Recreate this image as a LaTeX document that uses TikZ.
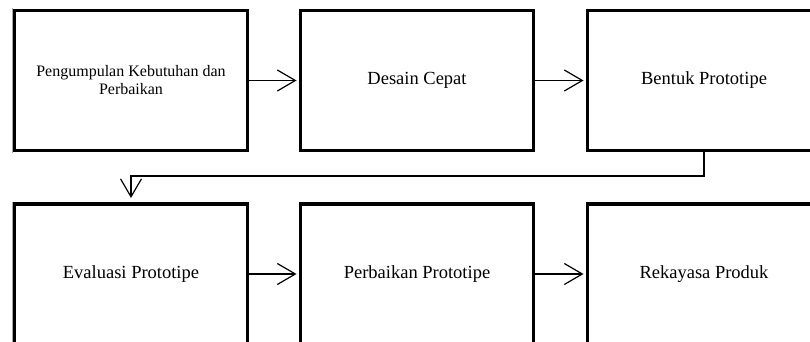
\documentclass[tikz,border=0pt]{standalone}
\usepackage{fontspec}
\setmainfont{Liberation Serif}
\usetikzlibrary{arrows.meta}
\tikzset{
  stage/.style={draw=black, line width=3.5pt, fill=white, outer sep=0pt,
    minimum width=233pt, minimum height=140pt, inner sep=0pt,
    font=\fontsize{18.5}{22}\selectfont, align=center},
  flow/.style={draw=black, line width=1.2pt,
    -{Straight Barb[length=18pt,width=21pt,line width=1.2pt]}},
}
\begin{document}
\begin{tikzpicture}[x=1pt,y=-1pt]
  \useasboundingbox (0,0) rectangle (810,342);
  \clip (0,0) rectangle (810,342);
  \fill[white] (0,0) rectangle (810,342);

  % upper row
  \node[stage, font=\fontsize{16}{18}\selectfont] (b1) at (131,80.5)
    {Pengumpulan Kebutuhan dan\\Perbaikan};
  \node[stage] (b2) at (417,80.5) {Desain Cepat};
  \node[stage] (b3) at (704,80.5) {Bentuk Prototipe};

  % lower row
  \node[stage] (b4) at (131,274) {Evaluasi Prototipe};
  \node[stage] (b5) at (417,274) {Perbaikan Prototipe};
  \node[stage] (b6) at (704,274) {Rekayasa Produk};

  % thin grey edge along the left of the first column
  \draw[gray!70, line width=0.8pt] (12.5,8.5) -- (12.5,152.5);
  \draw[gray!70, line width=0.8pt] (12.5,202) -- (12.5,342);

  % connectors
  \coordinate (turn) at (131,176);
  \draw[flow, shorten >=4pt] (b1.east) -- (b2.west);
  \draw[flow, shorten >=4pt] (b2.east) -- (b3.west);
  \draw[flow, shorten >=6pt] (b3.south) |- (turn) -- (b4.north);
  \draw[flow, shorten >=4pt] (b4.east) -- (b5.west);
  \draw[flow, shorten >=4pt] (b5.east) -- (b6.west);
\end{tikzpicture}
\end{document}
